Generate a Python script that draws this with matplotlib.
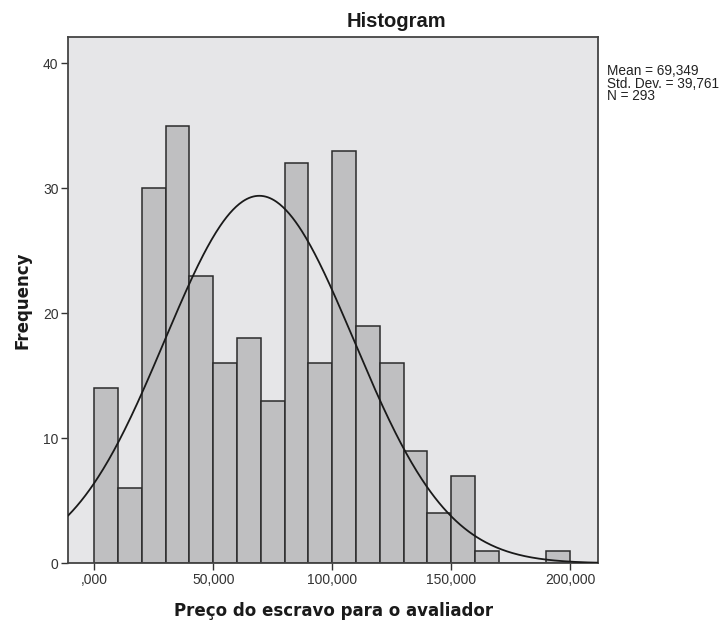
import numpy as np
import matplotlib
matplotlib.use("Agg")
import matplotlib.pyplot as plt

# Data
bin_starts = [0, 10000, 20000, 30000, 40000, 50000, 60000, 70000, 80000, 90000,
              100000, 110000, 120000, 130000, 140000, 150000, 160000, 170000, 180000, 190000]
counts = [14, 6, 30, 35, 23, 16, 18, 13, 32, 16, 33, 19, 16, 9, 4, 7, 1, 0, 0, 1]
bin_width = 10000
mean_val = 69349
std_val = 39761
n_val = 293
x_ticks = [0, 50000, 100000, 150000, 200000]
x_tick_labels = [",000", "50,000", "100,000", "150,000", "200,000"]
y_ticks = [0, 10, 20, 30, 40]

plt.rcParams['font.family'] = ['Liberation Sans', 'DejaVu Sans']

fig = plt.figure(figsize=(7.2, 6.21), dpi=100)
ax = fig.add_axes([0.0949, 0.0929, 0.831 - 0.0949, 0.940 - 0.0929])
ax.set_facecolor('#e6e6e8')

ax.bar(bin_starts, counts, width=bin_width, align='edge', color='#bfbfc1',
       edgecolor='#2b2b2b', linewidth=1.1, zorder=2)

xlim = (-10900, 211800)
xs = np.linspace(xlim[0], xlim[1], 500)
pdf = n_val * bin_width / (std_val * np.sqrt(2 * np.pi)) * np.exp(-0.5 * ((xs - mean_val) / std_val) ** 2)
ax.plot(xs, pdf, color='#1a1a1a', linewidth=1.3, zorder=3)

ax.set_xlim(*xlim)
ax.set_ylim(0, 42.08)
ax.set_xticks(x_ticks)
ax.set_xticklabels(x_tick_labels)
ax.set_yticks(y_ticks)
ax.tick_params(axis='both', direction='out', length=5, width=1, color='#333333',
               labelsize=10, labelcolor='#333333', pad=2)
for s in ax.spines.values():
    s.set_color('#444444')
    s.set_linewidth(1.3)

fig.text(396 / 720, 1 - 27 / 621, 'Histogram', fontsize=14.5, fontweight='bold',
         ha='center', va='baseline', color='#1a1a1a')
ax.set_xlabel('Preço do escravo para o avaliador', fontsize=12, fontweight='bold',
              labelpad=11, family='DejaVu Sans', color='#1a1a1a')
ax.set_ylabel('Frequency', fontsize=12, fontweight='bold', labelpad=8,
              family='DejaVu Sans', color='#1a1a1a')

fig.text(0.843, 0.897, f"Mean = 69,349\nStd. Dev. = 39,761\nN = {n_val}",
         fontsize=9.8, color='#222222', va='top', ha='left', linespacing=0.88)

fig.savefig('out.png', dpi=100)
